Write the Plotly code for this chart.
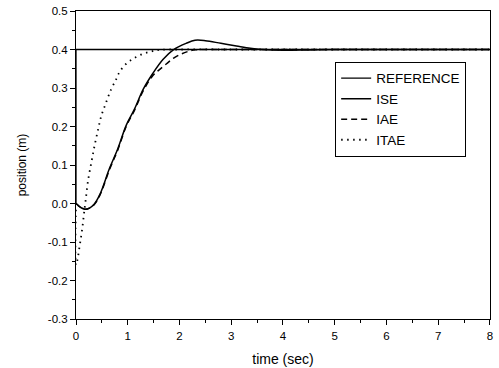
import plotly.graph_objects as go

# Reference step
t_ref = [0, 0, 8]
y_ref = [0, 0.4, 0.4]

# ISE response
t_ise = [0, 0.05, 0.1, 0.18, 0.26, 0.35, 0.46, 0.65, 0.81, 0.97, 1.13, 1.30, 1.49, 1.68, 1.88,
         2.13, 2.30, 2.50, 2.80, 3.10, 3.37, 3.6, 4.0, 4.5, 5.0, 6.0, 8.0]
y_ise = [0, -0.006, -0.011, -0.015, -0.012, -0.002, 0.023, 0.092, 0.143, 0.203, 0.245, 0.297, 0.339,
         0.374, 0.399, 0.416, 0.424, 0.423, 0.416, 0.409, 0.403, 0.400, 0.398, 0.399, 0.400, 0.400, 0.400]

# IAE response
t_iae = [0, 0.05, 0.1, 0.18, 0.26, 0.35, 0.46, 0.65, 0.81, 0.97, 1.13, 1.30, 1.49, 1.59, 1.75, 1.88,
         2.03, 2.17, 2.30, 2.50, 3.0, 4.0, 5.0, 8.0]
y_iae = [0, -0.006, -0.011, -0.015, -0.012, -0.003, 0.021, 0.089, 0.140, 0.200, 0.242, 0.293, 0.333,
         0.345, 0.363, 0.377, 0.388, 0.395, 0.399, 0.400, 0.400, 0.400, 0.400, 0.400]

# ITAE response
t_itae = [0, 0, 0.03, 0.065, 0.1, 0.13, 0.16, 0.19, 0.23, 0.30, 0.36, 0.43, 0.49, 0.57, 0.68, 0.77,
          0.84, 0.97, 1.13, 1.30, 1.46, 1.60, 2.0, 3.0, 4.0, 8.0]
y_itae = [0, -0.16, -0.145, -0.115, -0.085, -0.055, -0.02, 0.012, 0.057, 0.109, 0.151, 0.194, 0.228,
          0.258, 0.297, 0.321, 0.341, 0.363, 0.378, 0.389, 0.395, 0.399, 0.400, 0.400, 0.400, 0.400]

x_ticks = [0, 1, 2, 3, 4, 5, 6, 7, 8]
y_ticks = [-0.3, -0.2, -0.1, 0.0, 0.1, 0.2, 0.3, 0.4, 0.5]
y_tick_labels = ["-0.3", "-0.2", "-0.1", "0.0", "0.1", "0.2", "0.3", "0.4", "0.5"]

fig = go.Figure()
fig.add_trace(go.Scatter(x=t_ref, y=y_ref, mode="lines", name="REFERENCE",
                         line=dict(color="black", width=1.3)))
fig.add_trace(go.Scatter(x=t_ise, y=y_ise, mode="lines", name="ISE", line_shape="spline",
                         line=dict(color="black", width=1.5)))
fig.add_trace(go.Scatter(x=t_iae, y=y_iae, mode="lines", name="IAE", line_shape="spline",
                         line=dict(color="black", width=1.5, dash="6px,4px")))
fig.add_trace(go.Scatter(x=t_itae, y=y_itae, mode="lines", name="ITAE", line_shape="spline",
                         line=dict(color="black", width=1.8, dash="1.5px,4.5px")))

font_family = "Arial, Liberation Sans, Helvetica, sans-serif"
fig.update_layout(
    width=499, height=368,
    margin=dict(l=76, r=9, t=11, b=49),
    paper_bgcolor="white", plot_bgcolor="white",
    font=dict(family=font_family, color="black", size=11.5),
    showlegend=True,
    legend=dict(x=0.626, y=0.835, xanchor="left", yanchor="top",
                bordercolor="black", borderwidth=1, bgcolor="white",
                font=dict(size=13.5), tracegroupgap=0),
    xaxis=dict(range=[0, 8.001], tickvals=x_ticks, ticks="outside", ticklen=5,
               tickcolor="black", showgrid=False, zeroline=False, automargin=False,
               showline=True, linecolor="black", linewidth=1, mirror=True,
               ticklabelstandoff=1,
               minor=dict(dtick=0.5, ticks="outside", ticklen=3, tickcolor="black", showgrid=False),
               title=dict(text="time (sec)", font=dict(size=14), standoff=13)),
    yaxis=dict(range=[-0.3, 0.5], tickvals=y_ticks, ticktext=y_tick_labels, ticks="outside",
               ticklen=5, tickcolor="black", showgrid=False, zeroline=False, automargin=False,
               showline=True, linecolor="black", linewidth=1, mirror=True,
               minor=dict(dtick=0.05, ticks="outside", ticklen=3, tickcolor="black", showgrid=False),
               title=dict(text="position (m)", font=dict(size=12), standoff=18)),
)

fig.write_html("out.html", config={"displayModeBar": False},
               post_script="document.body.style.margin='0';")
